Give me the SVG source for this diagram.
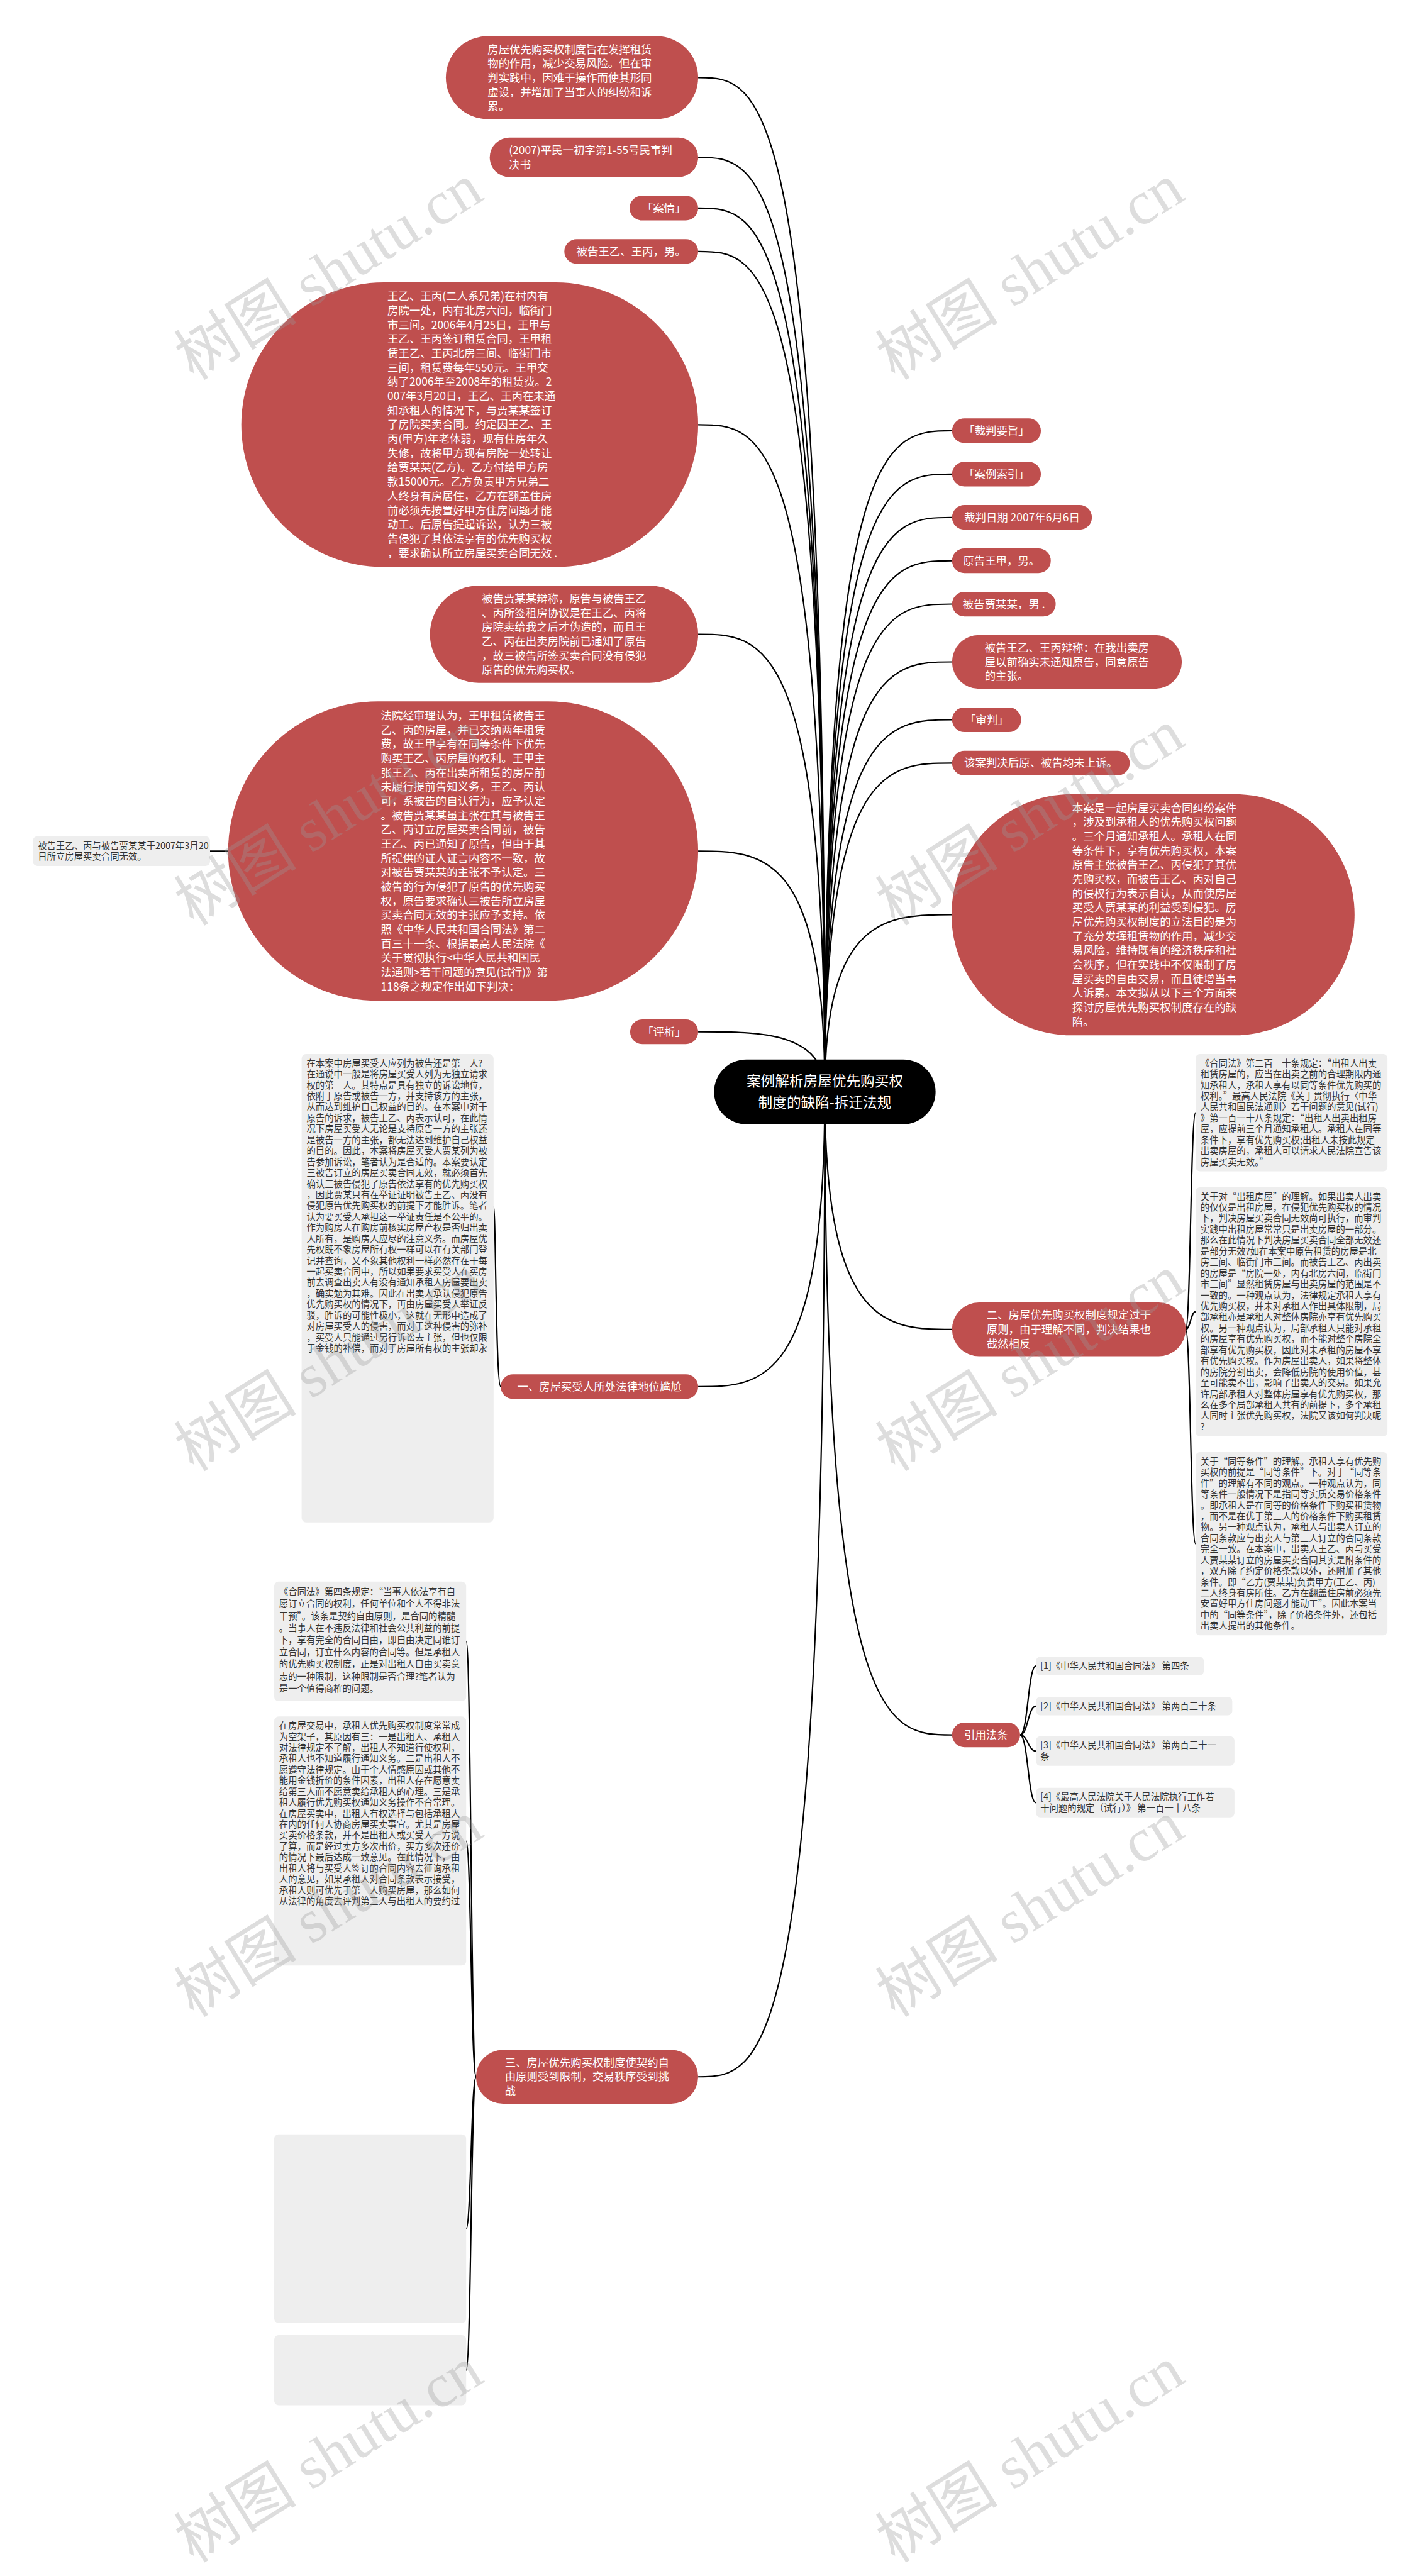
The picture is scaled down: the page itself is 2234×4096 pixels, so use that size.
<svg xmlns="http://www.w3.org/2000/svg" width="2234" height="4096" viewBox="0 0 2234 4096">
<style>
.r{fill:#BF4F4E}
.g{fill:#EEEEEE}
.k{fill:#000}
.tw{fill:#fff;font-family:"Noto Sans CJK SC","Noto Sans",sans-serif;font-size:20px}
.tg{fill:#333;font-family:"Noto Sans CJK SC","Noto Sans",sans-serif;font-size:16.5px}
.tr{fill:#fff;font-family:"Noto Sans CJK SC","Noto Sans",sans-serif;font-size:26px}
.m{text-anchor:middle}
.c path{fill:none;stroke:#000;stroke-width:2.5}
.wm{fill:#9a9a9a;opacity:.33;font-family:"Liberation Serif","Noto Sans CJK SC",serif;font-size:112px}
</style>
<rect width="2234" height="4096" fill="#fff"/>
<g transform="scale(0.872)">
<g id="connectors" class="c">
<path d="M1504 1991C1504 141.5 1388.5 141.5 1273 141.5"/>
<path d="M1504 1991C1504 287 1388.5 287 1273 287"/>
<path d="M1504 1991C1504 379.5 1388.5 379.5 1273 379.5"/>
<path d="M1504 1991C1504 458.5 1388.5 458.5 1273 458.5"/>
<path d="M1504 1991C1504 774.5 1388.5 774.5 1273 774.5"/>
<path d="M1504 1991C1504 1156.5 1388.5 1156.5 1273 1156.5"/>
<path d="M1504 1991C1504 1552 1388.5 1552 1273 1552"/>
<path d="M1504 1991C1504 1881.5 1388.5 1881.5 1273 1881.5"/>
<path d="M1504 1991C1504 2528.5 1388.5 2528.5 1273 2528.5"/>
<path d="M1504 1991C1504 3787 1388.5 3787 1273 3787"/>
<path d="M1504 1991C1504 785.5 1620 785.5 1736 785.5"/>
<path d="M1504 1991C1504 864.5 1620 864.5 1736 864.5"/>
<path d="M1504 1991C1504 943.5 1620 943.5 1736 943.5"/>
<path d="M1504 1991C1504 1022.5 1620 1022.5 1736 1022.5"/>
<path d="M1504 1991C1504 1101.5 1620 1101.5 1736 1101.5"/>
<path d="M1504 1991C1504 1207 1620 1207 1736 1207"/>
<path d="M1504 1991C1504 1312.5 1620 1312.5 1736 1312.5"/>
<path d="M1504 1991C1504 1391.5 1620 1391.5 1736 1391.5"/>
<path d="M1504 1991C1504 1668 1620 1668 1736 1668"/>
<path d="M1504 1991C1504 2424 1620 2424 1736 2424"/>
<path d="M1504 1991C1504 3163.5 1620 3163.5 1736 3163.5"/>
<path d="M416 1552H383"/>
<path d="M913 2528.5C904 2528.5 904 2200 900 2200"/>
<path d="M2162 2424C2171 2424 2171 2029 2180 2029"/>
<path d="M2162 2424C2171 2424 2171 2392 2180 2392"/>
<path d="M2162 2424C2171 2424 2171 2815 2180 2815"/>
<path d="M1860 3163.5C1874.5 3163.5 1874.5 3038 1889 3038"/>
<path d="M1860 3163.5C1874.5 3163.5 1874.5 3111 1889 3111"/>
<path d="M1860 3163.5C1874.5 3163.5 1874.5 3193 1889 3193"/>
<path d="M1860 3163.5C1874.5 3163.5 1874.5 3287 1889 3287"/>
<path d="M868 3787C859 3787 859 2993 850 2993"/>
<path d="M868 3787C859 3787 859 3357 850 3357"/>
<path d="M868 3787C859 3787 859 4064 850 4064"/>
<path d="M868 3787C859 3787 859 4322 850 4322"/>
</g>

<g id="root"><rect class="k" x="1302" y="1932" width="404" height="118" rx="59"/>
<text class="tr m"><tspan x="1504" y="1980.5">案例解析房屋优先购买权</tspan><tspan x="1504" y="2019.5">制度的缺陷-拆迁法规</tspan></text></g>

<g id="n-zhiyi"><rect class="r" x="813" y="66" width="460" height="151" rx="75.5"/>
<text class="tw"><tspan x="889" y="97">房屋优先购买权制度旨在发挥租赁</tspan><tspan x="889" y="123">物的作用，减少交易风险。但在审</tspan><tspan x="889" y="149">判实践中，因难于操作而使其形同</tspan><tspan x="889" y="175">虚设，并增加了当事人的纠纷和诉</tspan><tspan x="889" y="201">累。</tspan></text></g>

<g id="n-anhao"><rect class="r" x="893" y="251" width="380" height="72" rx="36"/>
<text class="tw"><tspan x="928" y="281">(2007)平民一初字第1-55号民事判</tspan><tspan x="928" y="307">决书</tspan></text></g>

<g id="n-anqing"><rect class="r" x="1148" y="357" width="125" height="45" rx="22.5"/>
<text class="tw m" x="1210.5" y="387">「案情」</text></g>

<g id="n-beigao1"><rect class="r" x="1029" y="436" width="244" height="45" rx="22.5"/>
<text class="tw m" x="1151" y="466">被告王乙、王丙，男。</text></g>

<g id="n-anqing-text"><rect class="r" x="440" y="515" width="833" height="519" rx="259.5"/>
<text class="tw"><tspan x="706.5" y="547.5">王乙、王丙(二人系兄弟)在村内有</tspan><tspan x="706.5" y="573.5">房院一处，内有北房六间，临街门</tspan><tspan x="706.5" y="599.5">市三间。2006年4月25日，王甲与</tspan><tspan x="706.5" y="625.5">王乙、王丙签订租赁合同，王甲租</tspan><tspan x="706.5" y="651.5">赁王乙、王丙北房三间、临街门市</tspan><tspan x="706.5" y="677.5">三间，租赁费每年550元。王甲交</tspan><tspan x="706.5" y="703.5">纳了2006年至2008年的租赁费。2</tspan><tspan x="706.5" y="729.5">007年3月20日，王乙、王丙在未通</tspan><tspan x="706.5" y="755.5">知承租人的情况下，与贾某某签订</tspan><tspan x="706.5" y="781.5">了房院买卖合同。约定因王乙、王</tspan><tspan x="706.5" y="807.5">丙(甲方)年老体弱，现有住房年久</tspan><tspan x="706.5" y="833.5">失修，故将甲方现有房院一处转让</tspan><tspan x="706.5" y="859.5">给贾某某(乙方)。乙方付给甲方房</tspan><tspan x="706.5" y="885.5">款15000元。乙方负责甲方兄弟二</tspan><tspan x="706.5" y="911.5">人终身有房居住，乙方在翻盖住房</tspan><tspan x="706.5" y="937.5">前必须先按置好甲方住房问题才能</tspan><tspan x="706.5" y="963.5">动工。后原告提起诉讼，认为三被</tspan><tspan x="706.5" y="989.5">告侵犯了其依法享有的优先购买权</tspan><tspan x="706.5" y="1015.5">，要求确认所立房屋买卖合同无效 .</tspan></text></g>

<g id="n-bianchen1"><rect class="r" x="784" y="1068" width="489" height="177" rx="88.5"/>
<text class="tw"><tspan x="878.5" y="1098.5">被告贾某某辩称，原告与被告王乙</tspan><tspan x="878.5" y="1124.5">、丙所签租房协议是在王乙、丙将</tspan><tspan x="878.5" y="1150.5">房院卖给我之后才伪造的，而且王</tspan><tspan x="878.5" y="1176.5">乙、丙在出卖房院前已通知了原告</tspan><tspan x="878.5" y="1202.5">，故三被告所签买卖合同没有侵犯</tspan><tspan x="878.5" y="1228.5">原告的优先购买权。</tspan></text></g>

<g id="n-fayuan"><rect class="r" x="416" y="1279" width="857" height="546" rx="273"/>
<text class="tw"><tspan x="694.5" y="1312">法院经审理认为，王甲租赁被告王</tspan><tspan x="694.5" y="1338">乙、丙的房屋，并已交纳两年租赁</tspan><tspan x="694.5" y="1364">费，故王甲享有在同等条件下优先</tspan><tspan x="694.5" y="1390">购买王乙、丙房屋的权利。王甲主</tspan><tspan x="694.5" y="1416">张王乙、丙在出卖所租赁的房屋前</tspan><tspan x="694.5" y="1442">未履行提前告知义务，王乙、丙认</tspan><tspan x="694.5" y="1468">可，系被告的自认行为，应予认定</tspan><tspan x="694.5" y="1494">。被告贾某某虽主张在其与被告王</tspan><tspan x="694.5" y="1520">乙、丙订立房屋买卖合同前，被告</tspan><tspan x="694.5" y="1546">王乙、丙已通知了原告，但由于其</tspan><tspan x="694.5" y="1572">所提供的证人证言内容不一致，故</tspan><tspan x="694.5" y="1598">对被告贾某某的主张不予认定。三</tspan><tspan x="694.5" y="1624">被告的行为侵犯了原告的优先购买</tspan><tspan x="694.5" y="1650">权，原告要求确认三被告所立房屋</tspan><tspan x="694.5" y="1676">买卖合同无效的主张应予支持。依</tspan><tspan x="694.5" y="1702">照《中华人民共和国合同法》第二</tspan><tspan x="694.5" y="1728">百三十一条、根据最高人民法院《</tspan><tspan x="694.5" y="1754">关于贯彻执行&lt;中华人民共和国民</tspan><tspan x="694.5" y="1780">法通则&gt;若干问题的意见(试行)》第</tspan><tspan x="694.5" y="1806">118条之规定作出如下判决：</tspan></text></g>

<g id="n-panjue"><rect class="g" x="60" y="1525" width="323" height="54" rx="8"/>
<text class="tg"><tspan x="69" y="1547.6">被告王乙、丙与被告贾某某于2007年3月20</tspan><tspan x="69" y="1567.6">日所立房屋买卖合同无效。</tspan></text></g>

<g id="n-pingxi"><rect class="r" x="1149" y="1859" width="124" height="45" rx="22.5"/>
<text class="tw m" x="1211" y="1888.5">「评析」</text></g>

<g id="n-yaozhi"><rect class="r" x="1736" y="763" width="162" height="45" rx="22.5"/>
<text class="tw m" x="1817" y="792.5">「裁判要旨」</text></g>
<g id="n-suoyin"><rect class="r" x="1736" y="842" width="162" height="45" rx="22.5"/>
<text class="tw m" x="1817" y="871.5">「案例索引」</text></g>
<g id="n-riqi"><rect class="r" x="1736" y="921" width="255" height="45" rx="22.5"/>
<text class="tw m" x="1863.5" y="950.5">裁判日期 2007年6月6日</text></g>
<g id="n-yuangao"><rect class="r" x="1736" y="1000" width="180" height="45" rx="22.5"/>
<text class="tw m" x="1826" y="1029.5">原告王甲，男。</text></g>
<g id="n-beigao2"><rect class="r" x="1736" y="1079" width="189" height="45" rx="22.5"/>
<text class="tw m" x="1830.5" y="1108.5">被告贾某某，男 .</text></g>
<g id="n-bianchen2"><rect class="r" x="1736" y="1158" width="419" height="98" rx="49"/>
<text class="tw"><tspan x="1795.5" y="1188">被告王乙、王丙辩称：在我出卖房</tspan><tspan x="1795.5" y="1214">屋以前确实未通知原告，同意原告</tspan><tspan x="1795.5" y="1240">的主张。</tspan></text></g>
<g id="n-shenpan"><rect class="r" x="1736" y="1290" width="126" height="45" rx="22.5"/>
<text class="tw m" x="1799" y="1319.5">「审判」</text></g>
<g id="n-shangsu"><rect class="r" x="1736" y="1369" width="324" height="45" rx="22.5"/>
<text class="tw m" x="1898" y="1398.5">该案判决后原、被告均未上诉。</text></g>

<g id="n-benan"><rect class="r" x="1735" y="1448" width="735" height="440" rx="220"/>
<text class="tw"><tspan x="1955" y="1480">本案是一起房屋买卖合同纠纷案件</tspan><tspan x="1955" y="1506">，涉及到承租人的优先购买权问题</tspan><tspan x="1955" y="1532">。三个月通知承租人。承租人在同</tspan><tspan x="1955" y="1558">等条件下，享有优先购买权，本案</tspan><tspan x="1955" y="1584">原告主张被告王乙、丙侵犯了其优</tspan><tspan x="1955" y="1610">先购买权，而被告王乙、丙对自己</tspan><tspan x="1955" y="1636">的侵权行为表示自认，从而使房屋</tspan><tspan x="1955" y="1662">买受人贾某某的利益受到侵犯。房</tspan><tspan x="1955" y="1688">屋优先购买权制度的立法目的是为</tspan><tspan x="1955" y="1714">了充分发挥租赁物的作用，减少交</tspan><tspan x="1955" y="1740">易风险，维持既有的经济秩序和社</tspan><tspan x="1955" y="1766">会秩序，但在实践中不仅限制了房</tspan><tspan x="1955" y="1792">屋买卖的自由交易，而且徒增当事</tspan><tspan x="1955" y="1818">人诉累。本文拟从以下三个方面来</tspan><tspan x="1955" y="1844">探讨房屋优先购买权制度存在的缺</tspan><tspan x="1955" y="1870">陷。</tspan></text></g>

<g id="n-er"><rect class="r" x="1736" y="2375" width="426" height="98" rx="49"/>
<text class="tw"><tspan x="1799" y="2405">二、房屋优先购买权制度规定过于</tspan><tspan x="1799" y="2431">原则，由于理解不同，判决结果也</tspan><tspan x="1799" y="2457">截然相反</tspan></text></g>

<g id="n-er-1"><rect class="g" x="2180" y="1922" width="350" height="214" rx="8"/>
<text class="tg"><tspan x="2189" y="1944.6">《合同法》第二百三十条规定：“出租人出卖</tspan><tspan x="2189" y="1964.6">租赁房屋的，应当在出卖之前的合理期限内通</tspan><tspan x="2189" y="1984.6">知承租人，承租人享有以同等条件优先购买的</tspan><tspan x="2189" y="2004.6">权利。”最高人民法院《关于贯彻执行〈中华</tspan><tspan x="2189" y="2024.6">人民共和国民法通则〉若干问题的意见(试行)</tspan><tspan x="2189" y="2044.6">》第一百一十八条规定：“出租人出卖出租房</tspan><tspan x="2189" y="2064.6">屋，应提前三个月通知承租人。承租人在同等</tspan><tspan x="2189" y="2084.6">条件下，享有优先购买权;出租人未按此规定</tspan><tspan x="2189" y="2104.6">出卖房屋的，承租人可以请求人民法院宣告该</tspan><tspan x="2189" y="2124.6">房屋买卖无效。”</tspan></text></g>

<g id="n-er-2"><rect class="g" x="2180" y="2165" width="350" height="454" rx="8"/>
<text class="tg"><tspan x="2189" y="2187.6">关于对“出租房屋”的理解。如果出卖人出卖</tspan><tspan x="2189" y="2207.6">的仅仅是出租房屋，在侵犯优先购买权的情况</tspan><tspan x="2189" y="2227.6">下，判决房屋买卖合同无效尚可执行，而审判</tspan><tspan x="2189" y="2247.6">实践中出租房屋常常只是出卖房屋的一部分。</tspan><tspan x="2189" y="2267.6">那么在此情况下判决房屋买卖合同全部无效还</tspan><tspan x="2189" y="2287.6">是部分无效?如在本案中原告租赁的房屋是北</tspan><tspan x="2189" y="2307.6">房三间、临街门市三间。而被告王乙、丙出卖</tspan><tspan x="2189" y="2327.6">的房屋是“房院一处，内有北房六间，临街门</tspan><tspan x="2189" y="2347.6">市三间”显然租赁房屋与出卖房屋的范围是不</tspan><tspan x="2189" y="2367.6">一致的。一种观点认为，法律规定承租人享有</tspan><tspan x="2189" y="2387.6">优先购买权，并未对承租人作出具体限制，局</tspan><tspan x="2189" y="2407.6">部承租亦是承租人对整体房院亦享有优先购买</tspan><tspan x="2189" y="2427.6">权。另一种观点认为，局部承租人只能对承租</tspan><tspan x="2189" y="2447.6">的房屋享有优先购买权，而不能对整个房院全</tspan><tspan x="2189" y="2467.6">部享有优先购买权，因此对未承租的房屋不享</tspan><tspan x="2189" y="2487.6">有优先购买权。作为房屋出卖人，如果将整体</tspan><tspan x="2189" y="2507.6">的房院分割出卖，会降低房院的使用价值，甚</tspan><tspan x="2189" y="2527.6">至可能卖不出，影响了出卖人的交易。如果允</tspan><tspan x="2189" y="2547.6">许局部承租人对整体房屋享有优先购买权，那</tspan><tspan x="2189" y="2567.6">么在多个局部承租人共有的前提下，多个承租</tspan><tspan x="2189" y="2587.6">人同时主张优先购买权，法院又该如何判决呢</tspan><tspan x="2189" y="2607.6">?</tspan></text></g>

<g id="n-er-3"><rect class="g" x="2180" y="2648" width="350" height="334" rx="8"/>
<text class="tg"><tspan x="2189" y="2670.6">关于“同等条件”的理解。承租人享有优先购</tspan><tspan x="2189" y="2690.6">买权的前提是“同等条件”下。对于“同等条</tspan><tspan x="2189" y="2710.6">件”的理解有不同的观点。一种观点认为，同</tspan><tspan x="2189" y="2730.6">等条件一般情况下是指同等实质交易价格条件</tspan><tspan x="2189" y="2750.6">。即承租人是在同等的价格条件下购买租赁物</tspan><tspan x="2189" y="2770.6">，而不是在优于第三人的价格条件下购买租赁</tspan><tspan x="2189" y="2790.6">物。另一种观点认为，承租人与出卖人订立的</tspan><tspan x="2189" y="2810.6">合同条款应与出卖人与第三人订立的合同条款</tspan><tspan x="2189" y="2830.6">完全一致。在本案中，出卖人王乙、丙与买受</tspan><tspan x="2189" y="2850.6">人贾某某订立的房屋买卖合同其实是附条件的</tspan><tspan x="2189" y="2870.6">，双方除了约定价格条款以外，还附加了其他</tspan><tspan x="2189" y="2890.6">条件。即“乙方(贾某某)负责甲方(王乙、丙)</tspan><tspan x="2189" y="2910.6">二人终身有房所住。乙方在翻盖住房前必须先</tspan><tspan x="2189" y="2930.6">安置好甲方住房问题才能动工”。因此本案当</tspan><tspan x="2189" y="2950.6">中的“同等条件”，除了价格条件外，还包括</tspan><tspan x="2189" y="2970.6">出卖人提出的其他条件。</tspan></text></g>

<g id="n-yinyong"><rect class="r" x="1736" y="3141" width="124" height="45" rx="22.5"/>
<text class="tw m" x="1798" y="3170.5">引用法条</text></g>
<g id="n-ref1"><rect class="g" x="1889" y="3021" width="306" height="34" rx="8"/>
<text class="tg" x="1897" y="3043.6">[1]《中华人民共和国合同法》 第四条</text></g>
<g id="n-ref2"><rect class="g" x="1889" y="3094" width="358" height="34" rx="8"/>
<text class="tg" x="1897" y="3116.6">[2]《中华人民共和国合同法》 第两百三十条</text></g>
<g id="n-ref3"><rect class="g" x="1889" y="3166" width="362" height="54" rx="8"/>
<text class="tg"><tspan x="1897" y="3188.6">[3]《中华人民共和国合同法》 第两百三十一</tspan><tspan x="1897" y="3208.6">条</tspan></text></g>
<g id="n-ref4"><rect class="g" x="1889" y="3260" width="362" height="54" rx="8"/>
<text class="tg"><tspan x="1897" y="3282.6">[4]《最高人民法院关于人民法院执行工作若</tspan><tspan x="1897" y="3302.6">干问题的规定（试行）》 第一百一十八条</tspan></text></g>

<g id="n-yi"><rect class="r" x="913" y="2506" width="360" height="45" rx="22.5"/>
<text class="tw m" x="1093" y="2535.5">一、房屋买受人所处法律地位尴尬</text></g>
<g id="n-yi-1"><rect class="g" x="550" y="1922" width="350" height="854" rx="8"/>
<text class="tg"><tspan x="559" y="1944.6">在本案中房屋买受人应列为被告还是第三人?</tspan><tspan x="559" y="1964.6">在通说中一般是将房屋买受人列为无独立请求</tspan><tspan x="559" y="1984.6">权的第三人。其特点是具有独立的诉讼地位，</tspan><tspan x="559" y="2004.6">依附于原告或被告一方，并支持该方的主张，</tspan><tspan x="559" y="2024.6">从而达到维护自己权益的目的。在本案中对于</tspan><tspan x="559" y="2044.6">原告的诉求，被告王乙、丙表示认可，在此情</tspan><tspan x="559" y="2064.6">况下房屋买受人无论是支持原告一方的主张还</tspan><tspan x="559" y="2084.6">是被告一方的主张，都无法达到维护自己权益</tspan><tspan x="559" y="2104.6">的目的。因此，本案将房屋买受人贾某列为被</tspan><tspan x="559" y="2124.6">告参加诉讼，笔者认为是合适的。本案要认定</tspan><tspan x="559" y="2144.6">三被告订立的房屋买卖合同无效，就必须首先</tspan><tspan x="559" y="2164.6">确认三被告侵犯了原告依法享有的优先购买权</tspan><tspan x="559" y="2184.6">，因此贾某只有在举证证明被告王乙、丙没有</tspan><tspan x="559" y="2204.6">侵犯原告优先购买权的前提下才能胜诉。笔者</tspan><tspan x="559" y="2224.6">认为要买受人承担这一举证责任是不公平的。</tspan><tspan x="559" y="2244.6">作为购房人在购房前核实房屋产权是否归出卖</tspan><tspan x="559" y="2264.6">人所有，是购房人应尽的注意义务。而房屋优</tspan><tspan x="559" y="2284.6">先权既不象房屋所有权一样可以在有关部门登</tspan><tspan x="559" y="2304.6">记并查询，又不象其他权利一样必然存在于每</tspan><tspan x="559" y="2324.6">一起买卖合同中，所以如果要求买受人在买房</tspan><tspan x="559" y="2344.6">前去调查出卖人有没有通知承租人房屋要出卖</tspan><tspan x="559" y="2364.6">，确实勉为其难。因此在出卖人承认侵犯原告</tspan><tspan x="559" y="2384.6">优先购买权的情况下，再由房屋买受人举证反</tspan><tspan x="559" y="2404.6">驳，胜诉的可能性极小，这就在无形中造成了</tspan><tspan x="559" y="2424.6">对房屋买受人的侵害，而对于这种侵害的弥补</tspan><tspan x="559" y="2444.6">，买受人只能通过另行诉讼去主张，但也仅限</tspan><tspan x="559" y="2464.6">于金钱的补偿，而对于房屋所有权的主张却永</tspan></text></g>

<g id="n-san"><rect class="r" x="868" y="3738" width="405" height="98" rx="49"/>
<text class="tw"><tspan x="920.5" y="3768">三、房屋优先购买权制度使契约自</tspan><tspan x="920.5" y="3794">由原则受到限制，交易秩序受到挑</tspan><tspan x="920.5" y="3820">战</tspan></text></g>
<g id="n-san-1"><rect class="g" x="500" y="2884" width="350" height="218" rx="8"/>
<text class="tg"><tspan x="509" y="2908.6">《合同法》第四条规定：“当事人依法享有自</tspan><tspan x="509" y="2930.6">愿订立合同的权利，任何单位和个人不得非法</tspan><tspan x="509" y="2952.6">干预”。该条是契约自由原则，是合同的精髓</tspan><tspan x="509" y="2974.6">。当事人在不违反法律和社会公共利益的前提</tspan><tspan x="509" y="2996.6">下，享有完全的合同自由，即自由决定同谁订</tspan><tspan x="509" y="3018.6">立合同，订立什么内容的合同等。但是承租人</tspan><tspan x="509" y="3040.6">的优先购买权制度，正是对出租人自由买卖意</tspan><tspan x="509" y="3062.6">志的一种限制，这种限制是否合理?笔者认为</tspan><tspan x="509" y="3084.6">是一个值得商榷的问题。</tspan></text></g>
<g id="n-san-2"><rect class="g" x="500" y="3130" width="350" height="454" rx="8"/>
<text class="tg"><tspan x="509" y="3152.6">在房屋交易中，承租人优先购买权制度常常成</tspan><tspan x="509" y="3172.6">为空架子，其原因有三：一是出租人、承租人</tspan><tspan x="509" y="3192.6">对法律规定不了解，出租人不知道行使权利，</tspan><tspan x="509" y="3212.6">承租人也不知道履行通知义务。二是出租人不</tspan><tspan x="509" y="3232.6">愿遵守法律规定。由于个人情感原因或其他不</tspan><tspan x="509" y="3252.6">能用金钱折价的条件因素，出租人存在愿意卖</tspan><tspan x="509" y="3272.6">给第三人而不愿意卖给承租人的心理。三是承</tspan><tspan x="509" y="3292.6">租人履行优先购买权通知义务操作不合常理。</tspan><tspan x="509" y="3312.6">在房屋买卖中，出租人有权选择与包括承租人</tspan><tspan x="509" y="3332.6">在内的任何人协商房屋买卖事宜。尤其是房屋</tspan><tspan x="509" y="3352.6">买卖价格条款，并不是出租人或买受人一方说</tspan><tspan x="509" y="3372.6">了算，而是经过卖方多次出价，买方多次还价</tspan><tspan x="509" y="3392.6">的情况下最后达成一致意见。在此情况下，由</tspan><tspan x="509" y="3412.6">出租人将与买受人签订的合同内容去征询承租</tspan><tspan x="509" y="3432.6">人的意见，如果承租人对合同条款表示接受，</tspan><tspan x="509" y="3452.6">承租人则可优先于第三人购买房屋，那么如何</tspan><tspan x="509" y="3472.6">从法律的角度去评判第三人与出租人的要约过</tspan></text></g>
<g id="n-san-3"><rect class="g" x="500" y="3892" width="350" height="344" rx="8"/></g>
<g id="n-san-4"><rect class="g" x="500" y="4258" width="350" height="128" rx="8"/></g>

<g id="watermark">
<text class="wm" transform="translate(353 695) rotate(-32)">树图 shutu.cn</text>
<text class="wm" transform="translate(1632 695) rotate(-32)">树图 shutu.cn</text>
<text class="wm" transform="translate(353 1690) rotate(-32)">树图 shutu.cn</text>
<text class="wm" transform="translate(1632 1690) rotate(-32)">树图 shutu.cn</text>
<text class="wm" transform="translate(353 2685) rotate(-32)">树图 shutu.cn</text>
<text class="wm" transform="translate(1632 2685) rotate(-32)">树图 shutu.cn</text>
<text class="wm" transform="translate(353 3680) rotate(-32)">树图 shutu.cn</text>
<text class="wm" transform="translate(1632 3680) rotate(-32)">树图 shutu.cn</text>
<text class="wm" transform="translate(353 4675) rotate(-32)">树图 shutu.cn</text>
<text class="wm" transform="translate(1632 4675) rotate(-32)">树图 shutu.cn</text>
</g>
</g>
</svg>
